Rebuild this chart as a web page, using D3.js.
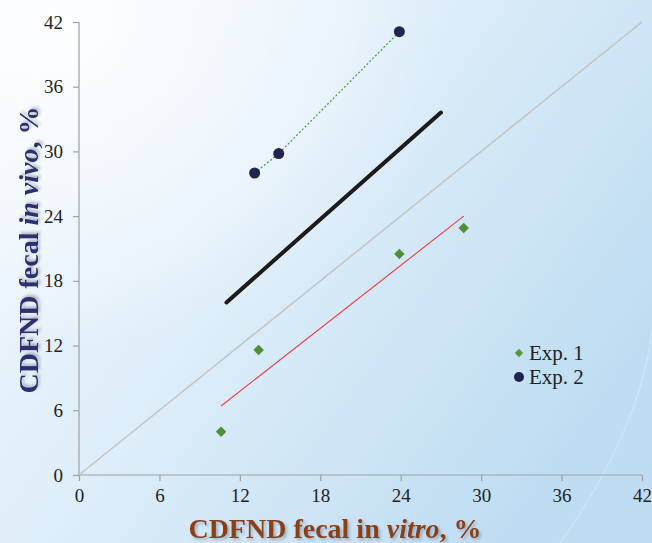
<!DOCTYPE html>
<html>
<head>
<meta charset="utf-8">
<script src="https://cdn.jsdelivr.net/npm/d3@7"></script>
<style>
  body { margin: 0; background: #fff; }
  svg { display: block; }
</style>
</head>
<body>
<svg width="652" height="543"></svg>
<script>
// data
const ticks = [0, 6, 12, 18, 24, 30, 36, 42]
const exp1X = [10.6, 13.4, 23.9, 28.7]
const exp1Y = [4.0, 11.6, 20.5, 22.9]
const exp2X = [13.1, 14.9, 23.9]
const exp2Y = [28.0, 29.8, 41.1]
const fit1X = [10.6, 28.7]   // red regression line, Exp. 1
const fit1Y = [6.4, 24.0]
const fitAllX = [11.0, 27.0] // thick black line
const fitAllY = [16.0, 33.6]
const unityX = [0, 42]
const unityY = [0, 42]
const legendLabels = ["Exp. 1", "Exp. 2"]

const serif = "'Liberation Serif', 'Times New Roman', serif"
const svg = d3.select("svg")
const W = 652, H = 543

// background gradient
const defs = svg.append("defs")
const lg = defs.append("linearGradient").attr("id", "bg")
    .attr("x1", "0").attr("y1", "0").attr("x2", "1").attr("y2", "0.6")
lg.append("stop").attr("offset", "0%").attr("stop-color", "#f4f9fd")
lg.append("stop").attr("offset", "45%").attr("stop-color", "#e0effa")
lg.append("stop").attr("offset", "100%").attr("stop-color", "#bfddf2")
svg.append("rect").attr("width", W).attr("height", H).attr("fill", "url(#bg)")
const rg = defs.append("radialGradient").attr("id", "glow")
    .attr("cx", "0.1").attr("cy", "0.05").attr("r", "0.6")
rg.append("stop").attr("offset", "0%").attr("stop-color", "#ffffff").attr("stop-opacity", 0.85)
rg.append("stop").attr("offset", "100%").attr("stop-color", "#ffffff").attr("stop-opacity", 0)
svg.append("rect").attr("width", W).attr("height", H).attr("fill", "url(#glow)")

// faint decorative curve at lower right
svg.append("path")
    .attr("d", "M560,543 Q640,430 652,330")
    .attr("fill", "none").attr("stroke", "#ffffff").attr("stroke-opacity", 0.6)
    .attr("stroke-dasharray", "1,1")

const shadow = defs.append("filter").attr("id", "shadow")
    .attr("x", "-10%").attr("y", "-10%").attr("width", "130%").attr("height", "130%")
shadow.append("feDropShadow").attr("dx", 2).attr("dy", 2).attr("stdDeviation", 1.5)
    .attr("flood-color", "#7d8a99").attr("flood-opacity", 0.6)

const x = d3.scaleLinear().domain([0, 42]).range([79, 642])
const y = d3.scaleLinear().domain([0, 42]).range([475, 22])

const xAxis = svg.append("g")
    .attr("transform", `translate(0,${y(0)})`)
    .call(d3.axisBottom(x).tickValues(ticks).tickSize(6).tickPadding(8).tickFormat(d3.format("d")))
const yAxis = svg.append("g")
    .attr("transform", `translate(${x(0)},0)`)
    .call(d3.axisLeft(y).tickValues(ticks).tickSize(6).tickPadding(10).tickFormat(d3.format("d")))

svg.selectAll(".domain, .tick line").attr("stroke", "#a0a0a0").attr("stroke-width", 1.2)
xAxis.selectAll(".domain").attr("d", `M${x(0)},0H${x(42)}`)
yAxis.selectAll(".domain").attr("d", `M0,${y(0)}V${y(42)}`)
svg.selectAll(".tick text")
    .style("font-family", serif).style("font-size", "19px").attr("fill", "#222")

const line = d3.line().x(d => x(d[0])).y(d => y(d[1]))

// 1:1 line
svg.append("path").datum(d3.zip(unityX, unityY))
    .attr("d", line).attr("fill", "none")
    .attr("stroke", "#c4c4c4").attr("stroke-width", 1.6)

// red fit
svg.append("path").datum(d3.zip(fit1X, fit1Y))
    .attr("d", line).attr("fill", "none")
    .attr("stroke", "#ee3a3a").attr("stroke-width", 1.1)

// thick black fit
svg.append("path").datum(d3.zip(fitAllX, fitAllY))
    .attr("d", line).attr("fill", "none")
    .attr("stroke", "#1c1a1a").attr("stroke-width", 4).attr("stroke-linecap", "round")

// dotted green through Exp. 2
svg.append("path").datum(d3.zip(exp2X, exp2Y))
    .attr("d", line).attr("fill", "none")
    .attr("stroke", "#4e9a3a").attr("stroke-width", 1.2).attr("stroke-dasharray", "2,2")

const diamond = d3.symbol().type(d3.symbolDiamond2).size(70)
svg.append("g").selectAll("path")
    .data(d3.zip(exp1X, exp1Y))
    .join("path")
    .attr("d", diamond)
    .attr("transform", d => `translate(${x(d[0])},${y(d[1])})`)
    .attr("fill", "#4f8f38")

svg.append("g").selectAll("circle")
    .data(d3.zip(exp2X, exp2Y))
    .join("circle")
    .attr("cx", d => x(d[0])).attr("cy", d => y(d[1]))
    .attr("r", 5.5).attr("fill", "#22234e")

// legend
const legend = svg.append("g").attr("transform", "translate(519,353)")
legendLabels.forEach((lab, i) => {
    const g = legend.append("g").attr("transform", `translate(0,${i * 24})`)
    if (i === 0) {
        g.append("path").attr("d", d3.symbol().type(d3.symbolDiamond2).size(45))
            .attr("fill", "#5a9a3c")
    } else {
        g.append("circle").attr("r", 5).attr("fill", "#22234e")
    }
    g.append("text").attr("x", 10).attr("y", 7)
        .attr("font-family", serif)
        .attr("font-size", 21).attr("fill", "#222")
        .text(lab)
})

// axis titles
const xt = svg.append("text")
    .attr("x", 335).attr("y", 538).attr("text-anchor", "middle")
    .attr("font-family", serif)
    .attr("font-size", 28).attr("font-weight", "bold").attr("fill", "#8a3f17")
    .attr("filter", "url(#shadow)")
xt.append("tspan").text("CDFND fecal in ")
xt.append("tspan").attr("font-style", "italic").text("vitro")
xt.append("tspan").text(", %")

const yt = svg.append("text")
    .attr("transform", "translate(38,250) rotate(-90)").attr("text-anchor", "middle")
    .attr("font-family", serif)
    .attr("font-size", 28).attr("font-weight", "bold").attr("fill", "#2d2f72")
    .attr("filter", "url(#shadow)")
yt.append("tspan").text("CDFND fecal ")
yt.append("tspan").attr("font-style", "italic").text("in vivo")
yt.append("tspan").text(", %")
</script>
</body>
</html>
